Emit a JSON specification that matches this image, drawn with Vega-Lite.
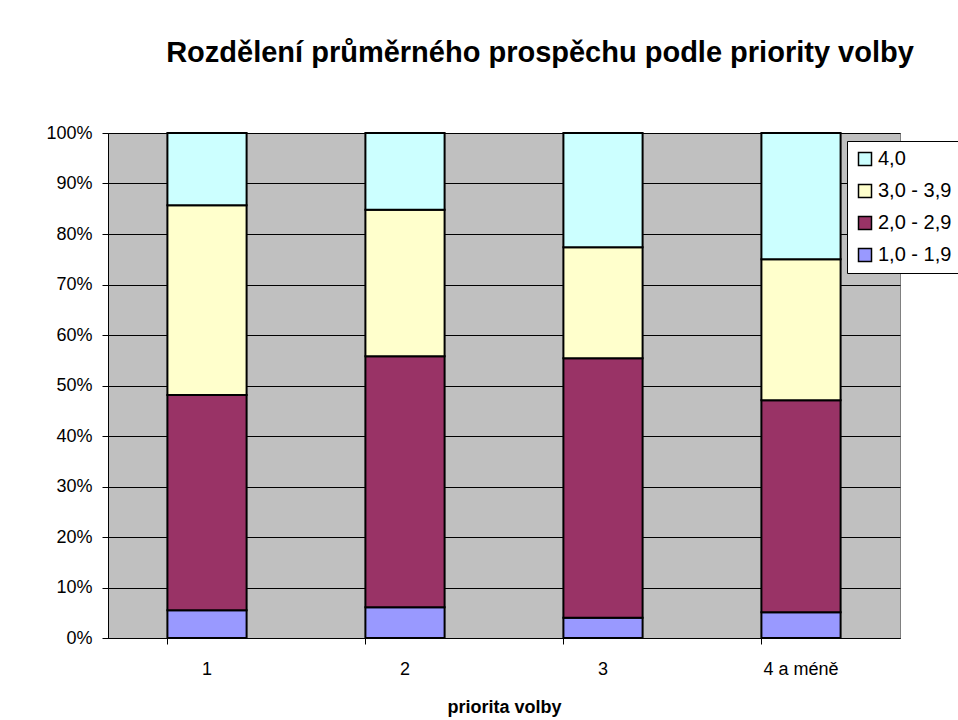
{
  "$schema": "https://vega.github.io/schema/vega-lite/v6.json",
  "autosize": "none",
  "width": 792,
  "height": 505,
  "padding": {"left": 108, "top": 133, "right": 58, "bottom": 82},
  "background": "white",
  "title": {
    "text": "Rozdělení průměrného prospěchu podle priority volby",
    "font": "Liberation Sans",
    "fontSize": 29,
    "fontWeight": "bold",
    "color": "black",
    "anchor": "middle",
    "frame": "group",
    "dx": 36,
    "offset": 56
  },
  "data": {
    "values": [
      {"priorita": "1", "prospech": "1,0 - 1,9", "k": 1, "p": 5.5},
      {"priorita": "1", "prospech": "2,0 - 2,9", "k": 2, "p": 42.6},
      {"priorita": "1", "prospech": "3,0 - 3,9", "k": 3, "p": 37.6},
      {"priorita": "1", "prospech": "4,0", "k": 4, "p": 14.3},
      {"priorita": "2", "prospech": "1,0 - 1,9", "k": 1, "p": 6.1},
      {"priorita": "2", "prospech": "2,0 - 2,9", "k": 2, "p": 49.7},
      {"priorita": "2", "prospech": "3,0 - 3,9", "k": 3, "p": 29.0},
      {"priorita": "2", "prospech": "4,0", "k": 4, "p": 15.2},
      {"priorita": "3", "prospech": "1,0 - 1,9", "k": 1, "p": 4.0},
      {"priorita": "3", "prospech": "2,0 - 2,9", "k": 2, "p": 51.4},
      {"priorita": "3", "prospech": "3,0 - 3,9", "k": 3, "p": 22.0},
      {"priorita": "3", "prospech": "4,0", "k": 4, "p": 22.6},
      {"priorita": "4 a méně", "prospech": "1,0 - 1,9", "k": 1, "p": 5.1},
      {"priorita": "4 a méně", "prospech": "2,0 - 2,9", "k": 2, "p": 42.0},
      {"priorita": "4 a méně", "prospech": "3,0 - 3,9", "k": 3, "p": 27.9},
      {"priorita": "4 a méně", "prospech": "4,0", "k": 4, "p": 25.0}
    ]
  },
  "mark": {"type": "bar", "stroke": "black", "strokeWidth": 2},
  "encoding": {
    "x": {
      "field": "priorita",
      "type": "nominal",
      "sort": null,
      "scale": {"paddingInner": 0.6, "paddingOuter": 0.3},
      "axis": {
        "title": "priorita volby",
        "titleFont": "Liberation Sans",
        "titleFontSize": 18,
        "titleFontWeight": "bold",
        "titleColor": "black",
        "titlePadding": 20,
        "labelFont": "Liberation Sans",
        "labelFontSize": 18,
        "labelColor": "black",
        "labelAngle": 0,
        "labelPadding": 16,
        "bandPosition": 0,
        "tickColor": "black",
        "tickSize": 6,
        "domainColor": "black",
        "grid": false
      }
    },
    "y": {
      "field": "p",
      "type": "quantitative",
      "stack": "normalize",
      "scale": {"domain": [0, 1]},
      "axis": {
        "title": null,
        "format": ".0%",
        "values": [0, 0.1, 0.2, 0.3, 0.4, 0.5, 0.6, 0.7, 0.8, 0.9, 1],
        "labelFont": "Liberation Sans",
        "labelFontSize": 18,
        "labelColor": "black",
        "labelPadding": 10,
        "tickColor": "black",
        "tickSize": 6,
        "domainColor": "black",
        "grid": true,
        "gridColor": "black",
        "gridOpacity": 1,
        "gridWidth": 1
      }
    },
    "color": {
      "field": "prospech",
      "type": "nominal",
      "scale": {
        "domain": ["4,0", "3,0 - 3,9", "2,0 - 2,9", "1,0 - 1,9"],
        "range": ["#CCFFFF", "#FFFFCC", "#993366", "#9999FF"]
      },
      "legend": {
        "title": null,
        "orient": "none",
        "legendX": 739,
        "legendY": 8,
        "symbolType": "square",
        "symbolSize": 169,
        "symbolStrokeColor": "black",
        "symbolStrokeWidth": 1.5,
        "symbolOpacity": 1,
        "labelFont": "Liberation Sans",
        "labelFontSize": 20,
        "labelColor": "black",
        "labelOffset": 3,
        "rowPadding": 12,
        "padding": 8,
        "fillColor": "white",
        "strokeColor": "black"
      }
    },
    "order": {"field": "k", "type": "quantitative"}
  },
  "config": {
    "view": {"fill": "#C0C0C0", "stroke": "#808080", "strokeWidth": 1}
  }
}
